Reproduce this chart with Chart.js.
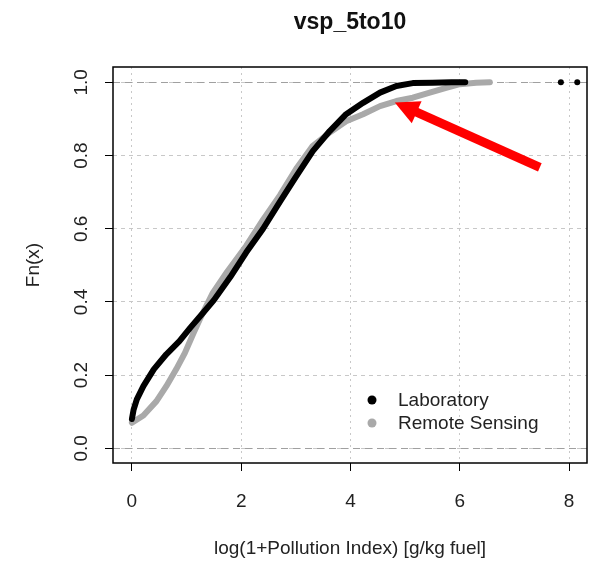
<!DOCTYPE html>
<html><head><meta charset="utf-8">
<script src="https://cdn.jsdelivr.net/npm/chart.js@4.4.1/dist/chart.umd.min.js"></script>
<style>html,body{margin:0;padding:0;background:#fff;}#wrap{width:590px;height:565px;position:relative;}</style>
</head><body><div id="wrap"><canvas id="c" width="590" height="565"></canvas></div>
<script>
// ---- data ----
const chartTitle = 'vsp_5to10';
const xAxisLabel = 'log(1+Pollution Index) [g/kg fuel]';
const yAxisLabel = 'Fn(x)';
const seriesNames = ['Laboratory', 'Remote Sensing'];
const xTicks = [0, 2, 4, 6, 8];
const xTickLabels = ['0', '2', '4', '6', '8'];
const yTicks = [0, 0.2, 0.4, 0.6, 0.8, 1.0];
const yTickLabels = ['0.0', '0.2', '0.4', '0.6', '0.8', '1.0'];
const refLines = [0, 1];

const labX = [0.00, 0.03, 0.09, 0.21, 0.40, 0.63, 0.87, 1.07, 1.30, 1.50, 1.80, 2.09, 2.40, 2.71, 3.00, 3.31, 3.62, 3.92, 4.23, 4.54, 4.84, 5.14, 5.50, 5.85, 6.10];
const labY = [0.080, 0.105, 0.134, 0.170, 0.216, 0.257, 0.293, 0.330, 0.370, 0.405, 0.468, 0.535, 0.600, 0.674, 0.742, 0.812, 0.867, 0.913, 0.944, 0.972, 0.990, 0.998, 0.999, 1.000, 1.000];
const labTailX = [7.85, 8.15];
const labTailY = [1.000, 1.000];

const rsX = [0.00, 0.21, 0.45, 0.63, 0.81, 0.97, 1.13, 1.25, 1.48, 1.74, 2.09, 2.40, 2.71, 3.02, 3.30, 3.62, 3.92, 4.23, 4.54, 4.84, 5.14, 5.45, 5.75, 6.00, 6.30, 6.55];
const rsY = [0.070, 0.090, 0.129, 0.170, 0.216, 0.261, 0.316, 0.355, 0.425, 0.482, 0.553, 0.625, 0.692, 0.767, 0.825, 0.863, 0.894, 0.913, 0.935, 0.949, 0.958, 0.972, 0.985, 0.995, 0.999, 1.000];

// annotation arrow (data coordinates): tail -> tip
const arrowTail = [7.465, 0.768];
const arrowTip = [4.81, 0.945];

// ---- build ----
const FONT = "'Liberation Sans', Arial, sans-serif";
const TXT = '#222';
const BLACK = '#000000', GRAY = '#a9a9a9';
const toPts = (xs, ys) => xs.map((x, i) => ({x: x, y: ys[i]}));

const overlay = {
  id: 'overlay',
  beforeDatasetsDraw(chart) {
    const {ctx, chartArea: a, scales: {y}} = chart;
    ctx.save();
    ctx.strokeStyle = '#a0a0a0';
    ctx.lineWidth = 1;
    ctx.setLineDash([7, 5]);
    refLines.forEach(v => {
      const py = Math.round(y.getPixelForValue(v)) + 0.5;
      ctx.beginPath(); ctx.moveTo(a.left, py); ctx.lineTo(a.right, py); ctx.stroke();
    });
    ctx.restore();
  },
  afterDraw(chart) {
    const {ctx, chartArea: a, scales: {x, y}} = chart;
    ctx.save();
    // box
    ctx.strokeStyle = '#000'; ctx.lineWidth = 1.5; ctx.setLineDash([]);
    ctx.strokeRect(a.left, a.top, a.right - a.left, a.bottom - a.top);
    // y tick labels (rotated as in R)
    ctx.fillStyle = TXT; ctx.font = '19px ' + FONT;
    ctx.textAlign = 'center'; ctx.textBaseline = 'middle';
    yTicks.forEach((v, i) => {
      ctx.save();
      ctx.translate(a.left - 31, y.getPixelForValue(v));
      ctx.rotate(-Math.PI / 2);
      ctx.fillText(yTickLabels[i], 0, 0);
      ctx.restore();
    });
    // title
    ctx.font = 'bold 23px ' + FONT; ctx.fillStyle = '#111';
    ctx.fillText(chartTitle, (a.left + a.right) / 2, 23);
    // legend
    const lx = a.left + 259, ly = a.top + 333;
    const cols = [BLACK, GRAY];
    ctx.font = '19px ' + FONT; ctx.textAlign = 'left';
    seriesNames.forEach((n, i) => {
      ctx.fillStyle = cols[i];
      ctx.beginPath(); ctx.arc(lx, ly + i * 23, 4.5, 0, Math.PI * 2); ctx.fill();
      ctx.fillStyle = TXT;
      ctx.fillText(n, lx + 26, ly + i * 23 + 1);
    });
    // red arrow
    const tx = x.getPixelForValue(arrowTail[0]), ty = y.getPixelForValue(arrowTail[1]);
    const hx = x.getPixelForValue(arrowTip[0]), hy = y.getPixelForValue(arrowTip[1]);
    const L = Math.hypot(hx - tx, hy - ty), ux = (hx - tx) / L, uy = (hy - ty) / L;
    const headL = 24, headW = 12;
    const bx = hx - ux * headL, by = hy - uy * headL;
    ctx.strokeStyle = '#ff0000'; ctx.fillStyle = '#ff0000'; ctx.lineWidth = 9; ctx.lineCap = 'butt';
    ctx.beginPath(); ctx.moveTo(tx, ty); ctx.lineTo(bx + ux * 2, by + uy * 2); ctx.stroke();
    ctx.beginPath();
    ctx.moveTo(hx, hy);
    ctx.lineTo(bx - uy * headW, by + ux * headW);
    ctx.lineTo(bx + uy * headW, by - ux * headW);
    ctx.closePath(); ctx.fill();
    ctx.restore();
  }
};

new Chart(document.getElementById('c'), {
  type: 'scatter',
  data: {
    datasets: [
      {label: seriesNames[0], data: toPts(labX, labY), showLine: true, borderColor: BLACK, backgroundColor: BLACK,
       borderWidth: 6, pointRadius: 0, pointHoverRadius: 0, tension: 0, borderCapStyle: 'round', borderJoinStyle: 'round'},
      {label: seriesNames[0] + ' (tail)', data: toPts(labTailX, labTailY), showLine: false, borderColor: BLACK, backgroundColor: BLACK,
       borderWidth: 0, pointRadius: 3, pointHoverRadius: 3},
      {label: seriesNames[1], data: toPts(rsX, rsY), showLine: true, borderColor: GRAY, backgroundColor: GRAY,
       borderWidth: 6, pointRadius: 0, pointHoverRadius: 0, tension: 0, borderCapStyle: 'round', borderJoinStyle: 'round'}
    ]
  },
  options: {
    responsive: false, animation: false, devicePixelRatio: 1,
    layout: {padding: {top: 67, right: 1, bottom: 0, left: 0}},
    plugins: {legend: {display: false}, title: {display: false}, tooltip: {enabled: false}},
    scales: {
      x: {
        type: 'linear', min: -0.346, max: 8.328,
        afterBuildTicks: s => { s.ticks = xTicks.map(v => ({value: v})); },
        afterFit: s => { s.height = 102; s.paddingLeft = 0; s.paddingRight = 0; },
        ticks: {color: TXT, font: {family: FONT, size: 19}, padding: 19, autoSkip: false, maxRotation: 0,
                callback: (v) => { const i = xTicks.indexOf(v); return i >= 0 ? xTickLabels[i] : ''; }},
        grid: {color: '#c8c8c8', lineWidth: 1, drawTicks: true, tickLength: 8, tickColor: '#000', tickWidth: 1, tickBorderDash: []},
        border: {display: false, dash: [2, 4]},
        title: {display: true, text: xAxisLabel, color: TXT, font: {family: FONT, size: 19}, padding: {top: 0, bottom: 5}}
      },
      y: {
        type: 'linear', min: -0.040, max: 1.042,
        afterBuildTicks: s => { s.ticks = yTicks.map(v => ({value: v})); },
        afterFit: s => { s.width = 113; s.paddingTop = 0; s.paddingBottom = 0; },
        ticks: {display: false},
        grid: {color: '#c8c8c8', lineWidth: 1, drawTicks: true, tickLength: 8, tickColor: '#000', tickWidth: 1, tickBorderDash: []},
        border: {display: false, dash: [4, 4]},
        title: {display: true, text: yAxisLabel, color: TXT, font: {family: FONT, size: 19}, padding: {top: 22, bottom: 0}}
      }
    }
  },
  plugins: [overlay]
});
</script></body></html>
